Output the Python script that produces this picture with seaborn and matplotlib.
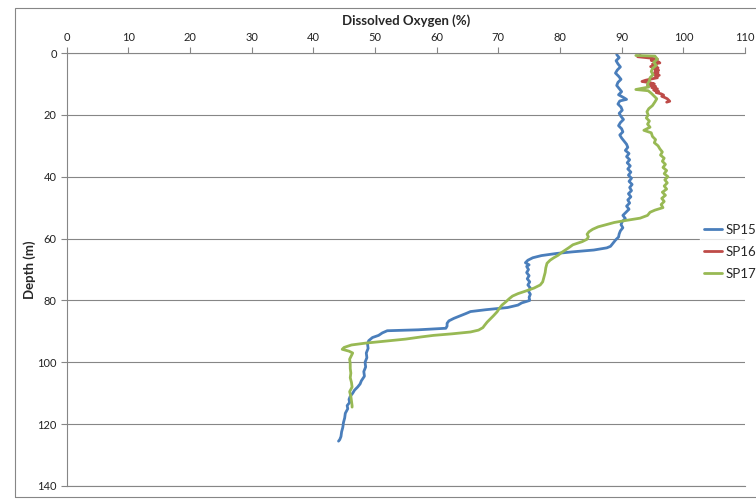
import matplotlib
matplotlib.use("Agg")
import matplotlib.pyplot as plt
import pandas as pd
import seaborn as sns
from matplotlib.patches import Rectangle

# ---- data ----
sp15_depth = [0.5, 1.5, 2.5, 3.5, 4.5, 5.5, 6.5, 7.5, 8.5, 9.5, 10.5, 11.5, 12.5, 13.5, 14.5, 15.0,
              15.5, 16.5, 17.5, 18.5, 19.5, 20.5, 21.5, 22.5, 23.5, 24.5, 25.5, 26.5, 27.5, 28.5,
              29.5, 30.5, 31.5, 32.5, 33.5, 34.5, 35.5, 36.5, 37.5, 38.5, 39.5, 40.5, 41.5, 42.5,
              43.5, 44.5, 45.5, 46.5, 47.5, 48.5, 49.5, 50.5, 51.5, 52.5, 53.5, 54.5, 55.5, 56.5,
              57.5, 58.5, 59.5, 60.5, 61.5, 62.5, 63.0, 63.7, 64.3, 64.8, 65.5, 66.2, 67.0, 67.8,
              68.5, 69.0, 70.0, 71.0, 72.0, 73.0, 74.0, 75.0, 76.0, 77.0, 78.0, 79.0, 80.0, 80.8,
              81.5, 82.3, 83.0, 83.6, 84.2, 85.0, 85.8, 86.6, 87.4, 88.3, 89.0, 89.5, 89.8, 90.5,
              91.3, 92.0, 93.0, 94.0, 95.5, 97.0, 98.5, 100.0, 101.5, 103.0, 104.5, 106.0, 107.0,
              108.0, 109.0, 110.0, 111.0, 112.0, 113.0, 114.0, 115.0, 116.5, 118.0, 119.5, 121.0,
              122.5, 124.0, 125.0, 125.5]
sp15_do = [89.2, 89.6, 89.1, 89.4, 89.8, 89.3, 89.0, 89.5, 89.9, 89.4, 89.2, 89.6, 90.0, 89.5, 90.4, 90.8,
           89.7, 89.4, 89.9, 90.1, 89.6, 89.9, 90.3, 89.8, 89.5, 90.0, 90.2, 89.7, 90.0, 90.4,
           90.8, 91.0, 90.6, 91.2, 90.8, 91.3, 90.9, 91.4, 91.0, 91.5, 91.1, 91.6, 91.2, 91.7,
           91.3, 91.6, 91.1, 91.5, 91.0, 91.3, 90.8, 91.2, 90.7, 90.2, 90.6, 90.1, 89.9, 90.2,
           89.8, 89.6, 89.5, 89.0, 88.6, 88.2, 87.6, 85.5, 82.0, 79.5, 77.0, 75.6, 74.8, 74.4,
           75.0, 74.6, 74.9, 74.6, 75.0, 74.7, 75.1, 74.8, 75.2, 74.9, 75.2, 75.0, 75.1, 73.8,
           73.2, 71.5, 68.0, 65.5, 64.8, 63.8, 62.8, 62.0, 61.7, 61.7, 61.5, 57.0, 52.0, 51.2,
           50.6, 49.6, 49.0, 48.8, 48.9, 48.6, 48.7, 48.4, 48.5, 48.2, 48.3, 47.8, 47.6,
           47.2, 46.7, 46.4, 46.0, 45.8, 45.9, 45.5, 45.6, 45.2, 45.1, 44.9, 44.8,
           44.6, 44.5, 44.3, 44.1]

sp16_depth = [0.8, 1.2, 1.6, 2.0, 2.4, 2.8, 3.2, 3.6, 4.0, 4.4, 4.8, 5.2, 5.6, 6.0, 6.4, 6.8, 7.2,
              7.6, 8.0, 8.4, 8.8, 9.2, 9.6, 10.0, 10.4, 10.8, 11.2, 11.6, 12.0, 12.4, 12.8, 13.2,
              13.6, 14.0, 14.4, 14.8, 15.2, 15.6, 15.9]
sp16_do = [93.0, 92.6, 94.5, 95.8, 94.8, 95.9, 96.2, 95.0, 95.6, 94.7, 95.9, 95.3, 96.0, 95.4, 95.9, 95.1, 96.1,
           95.5, 95.8, 94.8, 93.9, 93.3, 94.6, 95.3, 94.2, 95.5, 94.9, 95.8, 95.2, 96.0, 95.6, 96.4,
           96.8, 96.5, 97.0, 97.4, 97.6, 97.8, 97.3]

sp17_depth = [0.8, 1.0, 2.0, 3.0, 4.0, 5.0, 6.0, 7.0, 8.0, 9.0, 10.0, 11.0, 11.8, 12.2, 13.0, 14.0,
              14.8, 15.8, 17.0, 18.0, 19.0, 20.0, 21.0, 22.0, 23.0, 24.0, 25.0, 25.8, 27.0, 28.0,
              29.0, 30.0, 31.0, 32.0, 33.0, 34.0, 35.0, 36.0, 37.0, 38.0, 39.0, 40.0, 41.0, 42.0,
              43.0, 44.0, 45.0, 46.0, 47.0, 48.0, 49.0, 50.0, 50.8, 51.5, 52.5, 53.4, 54.2, 54.8,
              55.5, 56.2, 57.0, 57.8, 58.6, 59.4, 60.2, 61.0, 62.0, 63.0, 63.8, 64.6, 65.4, 66.2,
              67.0, 68.0, 69.5, 71.0, 72.5, 74.0, 75.0, 76.0, 77.0, 77.8, 78.6, 79.4, 80.5, 81.5,
              82.5, 83.7, 85.0, 86.0, 87.0, 88.0, 88.8, 89.6, 90.2, 90.8, 91.3, 91.8, 92.5, 93.2,
              93.8, 94.4, 95.2, 95.8, 96.4, 97.0, 97.8, 99.0, 100.5, 102.0, 103.5, 105.0, 106.5,
              108.0, 109.5, 111.0, 112.5, 114.0, 114.5]
sp17_do = [92.3, 95.4, 95.8, 95.2, 95.6, 95.0, 94.8, 95.1, 94.6, 94.5, 94.2, 94.4, 92.3, 94.3, 94.8, 95.3,
           95.7, 95.4, 95.0, 94.4, 94.1, 94.3, 94.0, 94.5, 94.2, 94.6, 93.6, 94.8, 95.0, 95.5,
           95.3, 95.9, 96.2, 96.6, 96.3, 96.9, 96.6, 97.1, 96.7, 97.3, 96.9, 97.5, 97.0, 97.4,
           96.9, 97.3, 96.6, 97.1, 96.5, 96.9, 96.4, 96.7, 95.4, 94.6, 94.2, 93.0, 90.5, 88.8,
           87.5, 86.2, 85.3, 84.7, 84.4, 84.6, 84.4, 83.6, 82.1, 81.4, 80.8, 80.2, 79.7, 79.0,
           78.4, 77.9, 77.7, 77.6, 77.4, 77.2, 76.8, 75.8, 74.4, 73.2, 72.3, 71.8, 71.2, 70.6,
           70.2, 69.8, 69.2, 68.7, 68.2, 67.8, 67.5, 66.8, 65.5, 62.5, 59.5, 57.5, 55.0, 51.5,
           48.5, 46.2, 45.0, 44.7, 45.8, 46.4, 46.2, 45.9, 46.0, 46.0, 46.1, 46.0, 46.2,
           46.3, 45.9, 46.1, 46.2, 46.3, 46.3]

sites = ["SP15", "SP16", "SP17"]
colors = ["#4a7ebb", "#be4b48", "#98b954"]
x_ticks = [0, 10, 20, 30, 40, 50, 60, 70, 80, 90, 100, 110]
y_ticks = [0, 20, 40, 60, 80, 100, 120, 140]

df = pd.concat([
    pd.DataFrame({"Site": "SP15", "Depth": sp15_depth, "DO": sp15_do}),
    pd.DataFrame({"Site": "SP16", "Depth": sp16_depth, "DO": sp16_do}),
    pd.DataFrame({"Site": "SP17", "Depth": sp17_depth, "DO": sp17_do}),
], ignore_index=True)

sns.set_theme(style="white")
plt.rcParams["font.family"] = ["Lato", "DejaVu Sans"]

W, H = 756, 501
fig = plt.figure(figsize=(W / 100, H / 100), dpi=100)
ax = fig.add_axes([66.5 / W, 1 - 486 / H, (745 - 66.5) / W, (486 - 53) / H])

grey = "#868686"
sns.lineplot(data=df, x="DO", y="Depth", hue="Site", hue_order=sites,
             palette=dict(zip(sites, colors)), sort=False, estimator=None,
             orient="y", linewidth=2.0, ax=ax)

ax.set_xlim(0, 110)
ax.set_ylim(140, 0)
ax.set_xticks(x_ticks)
ax.set_yticks(y_ticks)
ax.xaxis.tick_top()
ax.xaxis.set_label_position("top")
ax.tick_params(axis="x", top=True, bottom=False, direction="out", length=4,
               width=0.8, color=grey, labelsize=8, pad=3, labelcolor="#222222")
ax.tick_params(axis="y", left=True, direction="out", length=4, width=0.8,
               color=grey, labelsize=8, pad=3, labelcolor="#222222")
ax.yaxis.grid(True, color=grey, linewidth=0.8)
ax.xaxis.grid(False)
for s in ["left", "top", "bottom"]:
    ax.spines[s].set_color(grey)
    ax.spines[s].set_linewidth(0.8)
ax.spines["right"].set_visible(False)

ax.set_xlabel("Dissolved Oxygen (%)", fontweight="bold", fontsize=9.5, labelpad=5)
ax.set_ylabel("Depth (m)", fontweight="bold", fontsize=9.5, labelpad=1)

leg = ax.legend(loc="center left", bbox_to_anchor=(700 / W, 1 - 252 / H),
                bbox_transform=fig.transFigure, frameon=True, fontsize=9.5,
                handlelength=1.4, handletextpad=0.25, labelspacing=0.75,
                borderpad=0.3, borderaxespad=0, fancybox=False)
leg.get_frame().set_facecolor("white")
leg.get_frame().set_edgecolor("white")
for line in leg.get_lines():
    line.set_linewidth(2.0)

fig.patches.append(Rectangle((15 / W, 1 - 497 / H), 1.0, (497 - 8) / H,
                             transform=fig.transFigure, fill=False,
                             edgecolor=grey, linewidth=0.8))

fig.savefig("out.png", dpi=100)
